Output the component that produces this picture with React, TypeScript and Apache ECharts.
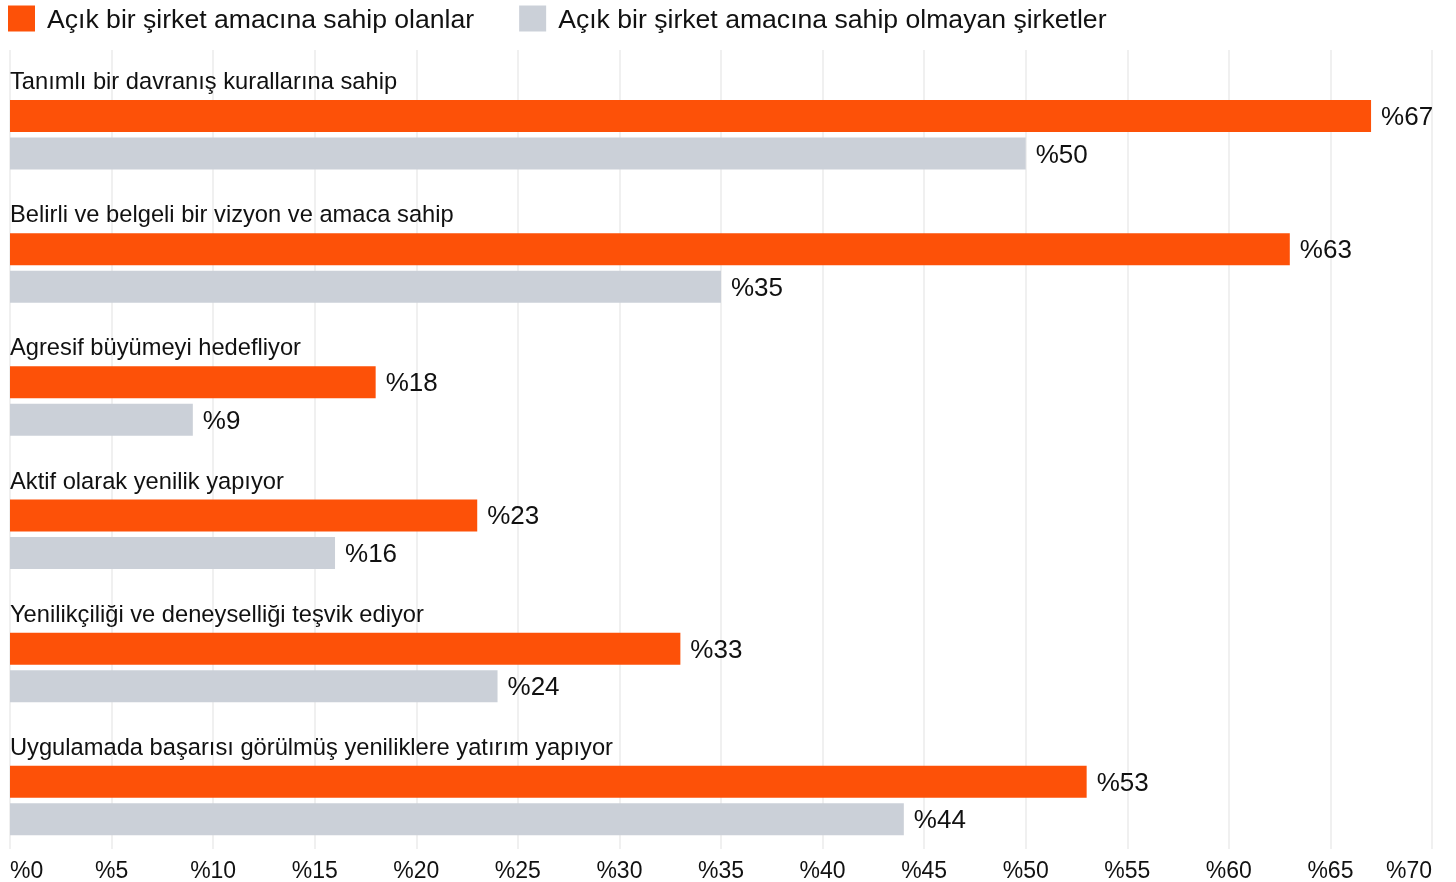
import React, { useEffect, useRef } from "react";
import * as echarts from "echarts";

const categories = [
  "Tanımlı bir davranış kurallarına sahip",
  "Belirli ve belgeli bir vizyon ve amaca sahip",
  "Agresif büyümeyi hedefliyor",
  "Aktif olarak yenilik yapıyor",
  "Yenilikçiliği ve deneyselliği teşvik ediyor",
  "Uygulamada başarısı görülmüş yeniliklere yatırım yapıyor",
];
const seriesNames = [
  "Açık bir şirket amacına sahip olanlar",
  "Açık bir şirket amacına sahip olmayan şirketler",
];
const withPurpose = [67, 63, 18, 23, 33, 53];
const withoutPurpose = [50, 35, 9, 16, 24, 44];
const spacerValues = [0, 0, 0, 0, 0, 0];

const FONT = "'Liberation Sans', Arial, Helvetica, sans-serif";
const ORANGE = "#FD5108";
const GREY = "#CBD0D8";
const TEXT = "#111111";

export default function App() {
  const ref = useRef<HTMLDivElement>(null);
  useEffect(() => {
    if (!ref.current) return;
    const chart = echarts.init(ref.current, undefined, { renderer: "svg" });
    const valueLabel = {
      show: true,
      position: "right",
      distance: 10,
      formatter: (p: any) => "%" + p.value,
      fontSize: 26,
      color: TEXT,
      fontFamily: FONT,
    };
    chart.setOption({
      animation: false,
      textStyle: { fontFamily: FONT },
      legend: {
        data: seriesNames,
        left: 3,
        top: 0,
        icon: "rect",
        itemWidth: 27,
        itemHeight: 26,
        itemGap: 45,
        selectedMode: false,
        textStyle: {
          fontSize: 26.6,
          color: TEXT,
          fontFamily: FONT,
          padding: [0, 0, 0, 7],
        },
      },
      grid: { left: 10, right: 24, top: 50, bottom: 33, containLabel: false },
      xAxis: {
        type: "value",
        min: 0,
        max: 70,
        interval: 5,
        axisLine: { show: false },
        axisTick: { show: false },
        splitLine: { show: true, lineStyle: { color: "#ebebeb", width: 1.5 } },
        axisLabel: {
          formatter: (v: number) => "%" + v,
          fontSize: 23,
          color: TEXT,
          fontFamily: FONT,
          margin: 9,
          alignMinLabel: "left",
          alignMaxLabel: "right",
        },
      },
      yAxis: {
        type: "category",
        inverse: true,
        data: categories,
        axisLine: { show: false },
        axisTick: { show: false },
        splitLine: { show: false },
        axisLabel: { show: false },
      },
      series: [
        {
          name: "spacer",
          type: "bar",
          data: spacerValues,
          barWidth: 31,
          barGap: "17.2%",
          silent: true,
          itemStyle: { color: "rgba(0,0,0,0)" },
          label: {
            show: true,
            position: "right",
            distance: 0,
            offset: [0, 2],
            formatter: (p: any) => categories[p.dataIndex],
            fontSize: 23.7,
            color: TEXT,
            fontFamily: FONT,
          },
        },
        {
          name: seriesNames[0],
          type: "bar",
          data: withPurpose,
          barWidth: 32,
          barGap: "17.2%",
          itemStyle: { color: ORANGE },
          label: valueLabel,
        },
        {
          name: seriesNames[1],
          type: "bar",
          data: withoutPurpose,
          barWidth: 32,
          barGap: "17.2%",
          itemStyle: { color: GREY },
          label: valueLabel,
        },
      ],
    });
    return () => chart.dispose();
  }, []);
  return (
    <div
      ref={ref}
      style={{ position: "fixed", left: 0, top: 0, width: 1456, height: 882 }}
    />
  );
}
